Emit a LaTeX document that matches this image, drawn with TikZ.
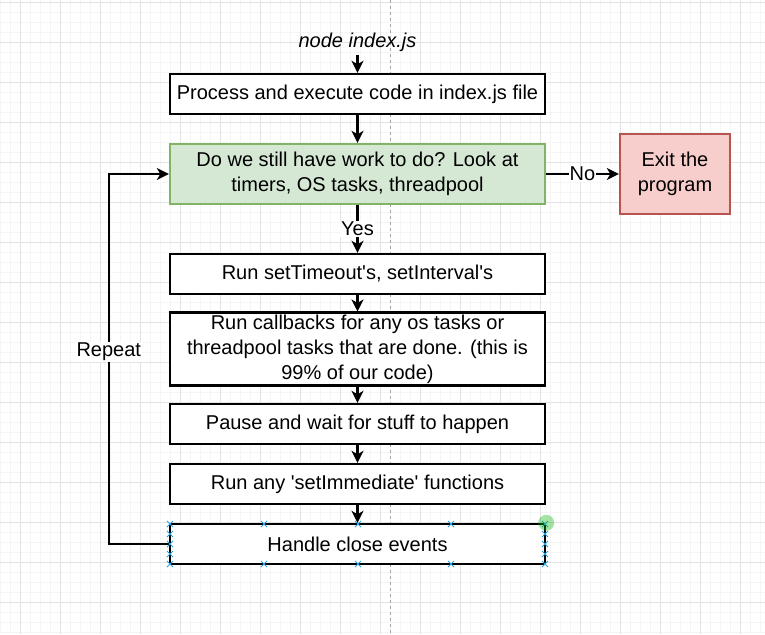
\documentclass[tikz,border=0pt]{standalone}
\usepackage{fontspec}
\setmainfont{Liberation Sans}
\usetikzlibrary{arrows.meta}
\definecolor{verdeF}{HTML}{D5E8D4}
\definecolor{verdeB}{HTML}{82B366}
\definecolor{vermF}{HTML}{F8CECC}
\definecolor{vermB}{HTML}{B85450}
\definecolor{selazul}{HTML}{29A3E0}
\begin{document}
\begin{tikzpicture}[x=1pt, y=-1pt,
    font=\fontsize{20}{25}\selectfont,
    caixa/.style={draw, line width=2.4pt, fill=white, minimum width=375pt, minimum height=40pt, align=center, inner sep=2pt},
    seta/.style={line width=2.4pt, -{Stealth[length=12pt,width=12pt,inset=3.5pt]}},
    rotulo/.style={fill=white, inner sep=1pt},
    gradefina/.style={draw=black!4, line width=0.6pt},
    gradegrossa/.style={draw=black!11, line width=0.8pt}]
  % Laço de eventos do Node.js (fluxograma)
  \useasboundingbox (0,0) rectangle (765,634);
  \fill[white] (0,0) rectangle (765,634);
  \foreach \gx in {0,10,...,760} \draw[gradefina] (\gx,0) -- (\gx,634);
  \foreach \gy in {2,12,...,632} \draw[gradefina] (0,\gy) -- (765,\gy);
  \foreach \gx in {20,60,...,740} \draw[gradegrossa] (\gx,0) -- (\gx,634);
  \foreach \gy in {2,42,...,602} \draw[gradegrossa] (0,\gy) -- (765,\gy);
  \draw[black!35, line width=0.8pt, dash pattern=on 3pt off 3pt] (390,0) -- (390,634);

  \node (inicio) at (357.5,42) {\itshape node index.js};
  \node[caixa] (proc) at (357.5,94) {Process and execute code in index.js file};
  \node[caixa, fill=verdeF, draw=verdeB, minimum height=60pt] (work) at (357.5,174)
    {Do we still have work to do? Look at\\timers, OS tasks, threadpool};
  \node[caixa, fill=vermF, draw=vermB, minimum width=110pt, minimum height=80pt] (fim) at (675,174)
    {Exit the\\program};
  \node[caixa] (tmr) at (357.5,274) {Run setTimeout\textquotesingle s, setInterval\textquotesingle s};
  \node[caixa, minimum height=70pt] (cb) at (357.5,349)
    {Run callbacks for any os tasks or\\threadpool tasks that are done. (this is\\99\% of our code)};
  \node[caixa] (pausa) at (357.5,424) {Pause and wait for stuff to happen};
  \node[caixa] (imed) at (357.5,484) {Run any \textquotesingle setImmediate\textquotesingle{} functions};
  \node[caixa] (fecha) at (357.5,544) {Handle close events};

  \draw[seta] (inicio) -- (proc);
  \draw[seta] (proc) -- (work);
  \draw[seta] (work) -- node[rotulo] {No} (fim);
  \draw[seta] (work) -- node[rotulo] {Yes} (tmr);
  \draw[seta] (tmr) -- (cb);
  \draw[seta] (cb) -- (pausa);
  \draw[seta] (pausa) -- (imed);
  \draw[seta] (imed) -- (fecha);
  \draw[seta] (fecha.west) -- ++(-60,0) coordinate (volta) |- node[rotulo, pos=0.26] {Repeat} (work.west);

  % alças de seleção
  \foreach \hx/\hy in {170/524,264/524,358/524,451/524,545/524,170/564,264/564,358/564,451/564,545/564,
                       170/534,170/544,170/554,545/534,545/544,545/554}
    \draw[selazul, line width=0.9pt] (\hx-3,\hy-3) -- (\hx+3,\hy+3) (\hx-3,\hy+3) -- (\hx+3,\hy-3);
  \fill[green!70!black, opacity=0.35] (fecha.north east) circle (8);
\end{tikzpicture}
\end{document}
